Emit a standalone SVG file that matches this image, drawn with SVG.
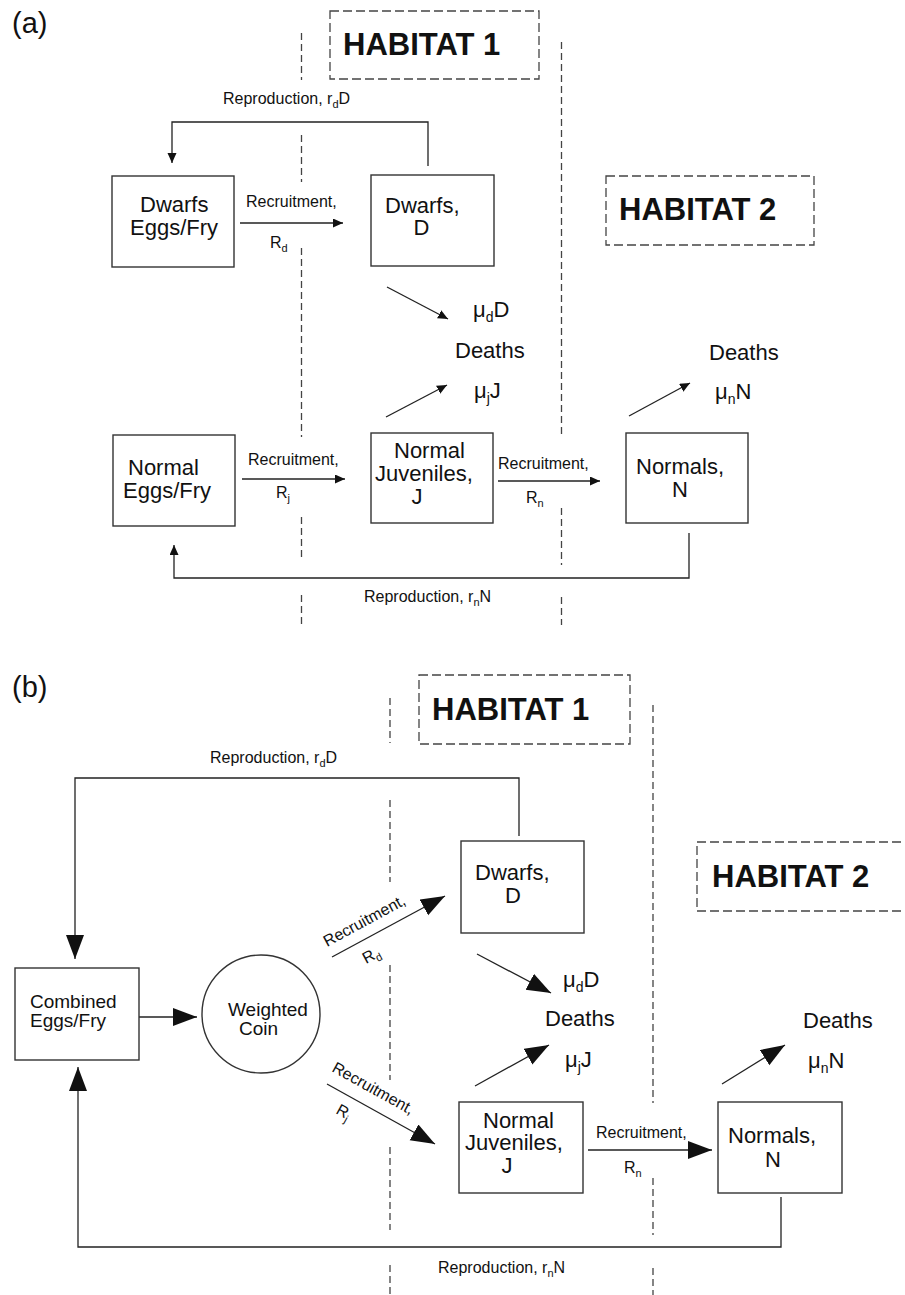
<svg xmlns="http://www.w3.org/2000/svg" width="905" height="1295" viewBox="0 0 905 1295">
<style>
text{font-family:"Liberation Sans",Arial,sans-serif;fill:#111}
.box{fill:#fff;stroke:#333;stroke-width:1.4}
.ln{fill:none;stroke:#222;stroke-width:1.3}
.dash{fill:none;stroke:#444;stroke-width:1.3;stroke-dasharray:7,4}
.hab{fill:none;stroke:#444;stroke-width:1.3;stroke-dasharray:9,4}
.ht{font-size:31px;font-weight:bold}
.nt{font-size:22px}
.st{font-size:16px}
.ct{font-size:19px}
.pl{font-size:29px}
.mid{text-anchor:middle}
</style>
<defs>
<marker id="as" markerUnits="userSpaceOnUse" markerWidth="11" markerHeight="10" refX="10" refY="4.5" orient="auto"><path d="M0,0 L10,4.5 L0,9 z" fill="#111"/></marker>
<marker id="ab" markerUnits="userSpaceOnUse" markerWidth="25" markerHeight="19" refX="24" refY="9" orient="auto"><path d="M0,0 L24,9 L0,18 z" fill="#111"/></marker>
</defs>
<rect width="905" height="1295" fill="#fff"/>

<g id="habitats">
<text class="pl" x="12" y="33">(a)</text>
<rect class="hab" x="330" y="11" width="209" height="68"/>
<text class="ht" x="343" y="55">HABITAT 1</text>
<rect class="hab" x="606" y="176" width="208" height="69"/>
<text class="ht" x="619" y="220">HABITAT 2</text>
<path class="dash" d="M301.5,33V80M301.5,135V182M301.5,248V437M301.5,517V560M301.5,595V625"/>
<path class="dash" d="M561.5,42V435M561.5,508V565M561.5,597V625"/>
<text class="pl" x="12" y="697">(b)</text>
<rect class="hab" x="419" y="675" width="211" height="69"/>
<text class="ht" x="432" y="720">HABITAT 1</text>
<rect class="hab" x="697" y="842" width="230" height="69"/>
<text class="ht" x="712" y="887">HABITAT 2</text>
<path class="dash" d="M390,698V743M390,800V882M390,965V1080M390,1147V1230M390,1265V1295"/>
<path class="dash" d="M653,705V1103M653,1178V1235M653,1268V1295"/>
</g>

<g id="connectors">
<polyline class="ln" points="428,166 428,122 172,122 172,163" marker-end="url(#as)"/>
<text class="st" x="223" y="104">Reproduction, r<tspan font-size="11" dy="4">d</tspan><tspan dy="-4">D</tspan></text>
<line class="ln" x1="240" y1="223" x2="343" y2="223" marker-end="url(#as)"/>
<text class="st" x="246" y="207">Recruitment,</text>
<text class="st" x="270" y="248">R<tspan font-size="11" dy="4">d</tspan></text>
<line class="ln" x1="387" y1="287" x2="448" y2="319" marker-end="url(#as)"/>
<line class="ln" x1="386" y1="417" x2="447" y2="385" marker-end="url(#as)"/>
<line class="ln" x1="242" y1="479" x2="345" y2="479" marker-end="url(#as)"/>
<text class="st" x="248" y="465">Recruitment,</text>
<text class="st" x="276" y="498">R<tspan font-size="11" dy="4">j</tspan></text>
<line class="ln" x1="498" y1="481" x2="600" y2="481" marker-end="url(#as)"/>
<text class="st" x="498" y="469">Recruitment,</text>
<text class="st" x="526" y="503">R<tspan font-size="11" dy="4">n</tspan></text>
<line class="ln" x1="629" y1="416" x2="690" y2="383" marker-end="url(#as)"/>
<polyline class="ln" points="689,533 689,578 174,578 174,545" marker-end="url(#as)"/>
<text class="st" x="364" y="602">Reproduction, r<tspan font-size="11" dy="4">n</tspan><tspan dy="-4">N</tspan></text>

<polyline class="ln" points="519,836 519,778 75,778 75,959" marker-end="url(#ab)"/>
<text class="st" x="210" y="763">Reproduction, r<tspan font-size="11" dy="4">d</tspan><tspan dy="-4">D</tspan></text>
<line class="ln" x1="139" y1="1017" x2="197" y2="1017" marker-end="url(#ab)"/>
<line class="ln" x1="332" y1="957" x2="445" y2="896" marker-end="url(#ab)"/>
<text class="st" transform="translate(327,947) rotate(-28.4)">Recruitment,</text>
<text class="st" transform="translate(366,964) rotate(-28.4)">R<tspan font-size="11" dy="4">d</tspan></text>
<line class="ln" x1="327" y1="1084" x2="435" y2="1144" marker-end="url(#ab)"/>
<text class="st" transform="translate(331,1071) rotate(29)">Recruitment,</text>
<text class="st" transform="translate(335,1113) rotate(29)">R<tspan font-size="11" dy="4">j</tspan></text>
<line class="ln" x1="477" y1="954" x2="551" y2="993" marker-end="url(#ab)"/>
<line class="ln" x1="475" y1="1086" x2="549" y2="1045" marker-end="url(#ab)"/>
<line class="ln" x1="588" y1="1150" x2="712" y2="1150" marker-end="url(#ab)"/>
<text class="st" x="596" y="1138">Recruitment,</text>
<text class="st" x="624" y="1173">R<tspan font-size="11" dy="4">n</tspan></text>
<line class="ln" x1="722" y1="1084" x2="785" y2="1045" marker-end="url(#ab)"/>
<polyline class="ln" points="781,1197 781,1247 78,1247 78,1067" marker-end="url(#ab)"/>
<text class="st" x="438" y="1273">Reproduction, r<tspan font-size="11" dy="4">n</tspan><tspan dy="-4">N</tspan></text>
</g>

<g id="a-dwarf-eggs"><rect class="box" x="112" y="176" width="122" height="91"/>
<text class="nt" x="140" y="212">Dwarfs</text><text class="nt" x="130" y="235">Eggs/Fry</text></g>
<g id="a-dwarfs"><rect class="box" x="371" y="175" width="123" height="91"/>
<text class="nt" x="385" y="213">Dwarfs,</text><text class="nt mid" x="421.5" y="235">D</text></g>
<g id="a-deaths1">
<text class="nt" x="473" y="317">μ<tspan font-size="14" dy="5">d</tspan><tspan dy="-5">D</tspan></text>
<text class="nt" x="455" y="358">Deaths</text>
<text class="nt" x="474" y="398">μ<tspan font-size="14" dy="5">j</tspan><tspan dy="-5">J</tspan></text></g>
<g id="a-deaths2">
<text class="nt" x="709" y="360">Deaths</text>
<text class="nt" x="715" y="399">μ<tspan font-size="14" dy="5">n</tspan><tspan dy="-5">N</tspan></text></g>
<g id="a-normal-eggs"><rect class="box" x="113" y="435" width="122" height="91"/>
<text class="nt" x="128" y="475">Normal</text><text class="nt" x="123" y="498">Eggs/Fry</text></g>
<g id="a-juveniles"><rect class="box" x="371" y="433" width="122" height="90"/>
<text class="nt" x="394" y="458">Normal</text><text class="nt" x="375" y="481">Juveniles,</text><text class="nt mid" x="417" y="504">J</text></g>
<g id="a-normals"><rect class="box" x="626" y="433" width="122" height="90"/>
<text class="nt" x="636" y="474">Normals,</text><text class="nt mid" x="680" y="497">N</text></g>

<g id="b-combined"><rect class="box" x="15" y="968" width="124" height="92"/>
<text class="ct" x="30" y="1008">Combined</text><text class="ct" x="30" y="1027">Eggs/Fry</text></g>
<g id="b-coin"><circle class="box" cx="261" cy="1014" r="59"/>
<text class="ct" x="228" y="1016">Weighted</text><text class="ct" x="239" y="1035">Coin</text></g>
<g id="b-dwarfs"><rect class="box" x="461" y="841" width="123" height="92"/>
<text class="nt" x="475" y="880">Dwarfs,</text><text class="nt mid" x="513" y="903">D</text></g>
<g id="b-deaths1">
<text class="nt" x="563" y="987">μ<tspan font-size="14" dy="5">d</tspan><tspan dy="-5">D</tspan></text>
<text class="nt" x="545" y="1026">Deaths</text>
<text class="nt" x="565" y="1067">μ<tspan font-size="14" dy="5">j</tspan><tspan dy="-5">J</tspan></text></g>
<g id="b-deaths2">
<text class="nt" x="803" y="1028">Deaths</text>
<text class="nt" x="808" y="1068">μ<tspan font-size="14" dy="5">n</tspan><tspan dy="-5">N</tspan></text></g>
<g id="b-juveniles"><rect class="box" x="459" y="1102" width="124" height="91"/>
<text class="nt" x="483" y="1128">Normal</text><text class="nt" x="465" y="1150">Juveniles,</text><text class="nt mid" x="507" y="1173">J</text></g>
<g id="b-normals"><rect class="box" x="718" y="1102" width="124" height="91"/>
<text class="nt" x="728" y="1143">Normals,</text><text class="nt mid" x="773" y="1167">N</text></g>
</svg>
